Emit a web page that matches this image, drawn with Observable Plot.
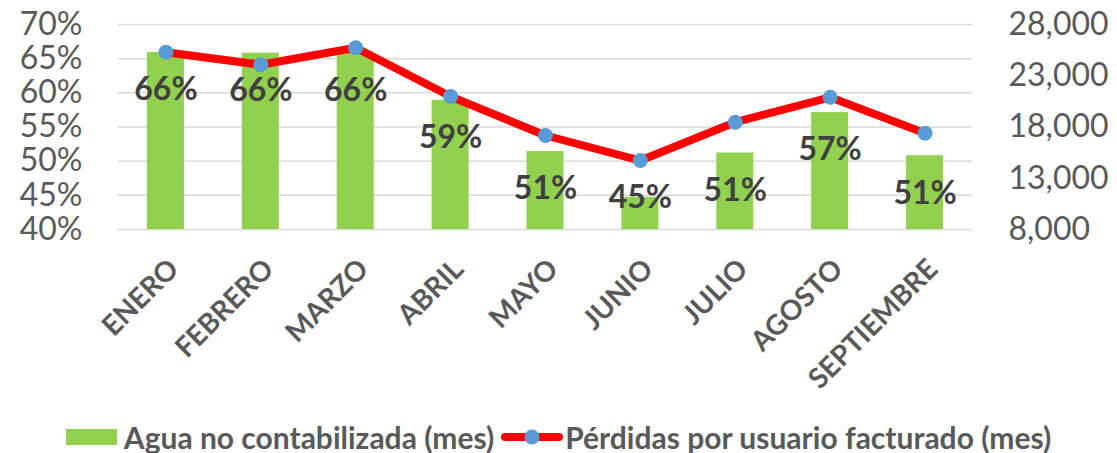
<!DOCTYPE html>
<html>
<head>
<meta charset="utf-8">
<script src="https://cdn.jsdelivr.net/npm/d3@7"></script>
<script src="https://cdn.jsdelivr.net/npm/@observablehq/plot@0.6"></script>
<style>
  html, body { margin: 0; padding: 0; background: white; }
  #legend { display: flex; justify-content: center; align-items: center; height: 36px; margin-top: 7px;
    font-family: Lato, sans-serif; font-weight: bold; font-size: 30px; color: #595959; line-height: 36px; }
  .sw { width: 51px; height: 16px; background: #92D050; margin-right: 7px; }
  .item { display: flex; align-items: center; }
</style>
</head>
<body>
<div id="chart"></div>
<div id="legend"></div>
<script>
const months = ["ENERO","FEBRERO","MARZO","ABRIL","MAYO","JUNIO","JULIO","AGOSTO","SEPTIEMBRE"];
const aguaPct = [65.9, 65.8, 65.8, 58.9, 51.4, 44.7, 51.2, 57.1, 50.8];
const perdidas = [25300, 24070, 25730, 20980, 17170, 14730, 18470, 20900, 17400];
const leftTicks = [40, 45, 50, 55, 60, 65, 70];
const rightTicks = [8000, 13000, 18000, 23000, 28000];
const seriesNames = ["Agua no contabilizada (mes)", "Pérdidas por usuario facturado (mes)"];

const toPct = v => 40 + (v - 8000) / 20000 * 30;
const fromPct = p => 8000 + (p - 40) / 30 * 20000;

const data = months.map((m, i) => ({m, pct: aguaPct[i], loss: perdidas[i], lossPct: toPct(perdidas[i])}));

const chart = Plot.plot({
  width: 1117, height: 412,
  marginLeft: 118, marginRight: 145, marginTop: 24, marginBottom: 183,
  style: {fontFamily: "Lato, sans-serif", background: "white"},
  x: {domain: months, paddingInner: 0.61, paddingOuter: 0.305, round: false, axis: null, label: null},
  y: {domain: [40, 70], axis: null, label: null},
  marks: [
    Plot.gridY(leftTicks, {stroke: "#D9D9D9", strokeOpacity: 1, strokeWidth: 1.5}),
    Plot.barY(data, {x: "m", y1: 40, y2: "pct", fill: "#92D050"}),
    Plot.line(data, {x: "m", y: "lossPct", stroke: "#FF0000", strokeWidth: 8}),
    Plot.dot(data, {x: "m", y: "lossPct", r: 7.5, fill: "#5B9BD5"}),
    Plot.text(data, {x: "m", y: d => Math.max(d.pct - 7, 43.2), text: d => Math.round(d.pct) + "%",
      lineAnchor: "bottom", fontSize: 32, fontWeight: "bold", fill: "#404040"}),
    Plot.axisY(leftTicks, {anchor: "left", tickSize: 0, tickPadding: 36, tickFormat: d => d + "%",
      fontSize: 32, fill: "#595959", label: null}),
    Plot.axisY(rightTicks.map(toPct), {anchor: "right", tickSize: 0, tickPadding: 36,
      tickFormat: p => d3.format(",")(Math.round(fromPct(p))), fontSize: 32, fill: "#595959", label: null}),
    Plot.axisX({tickRotate: -45, tickSize: 0, tickPadding: 35, dx: 8, fontSize: 28,
      fontWeight: "bold", fill: "#595959", label: null})
  ]
});
document.getElementById("chart").appendChild(chart);

const legend = document.getElementById("legend");
legend.innerHTML =
  `<div class="item"><div class="sw"></div><span>${seriesNames[0]}</span></div>` +
  `<div class="item" style="margin-left:7px"><svg width="62" height="16" style="margin-right:2px">` +
  `<line x1="4" y1="8" x2="58" y2="8" stroke="#FF0000" stroke-width="8" stroke-linecap="round"/>` +
  `<circle cx="31" cy="8" r="7.5" fill="#5B9BD5"/></svg><span>${seriesNames[1]}</span></div>`;
</script>
</body>
</html>
